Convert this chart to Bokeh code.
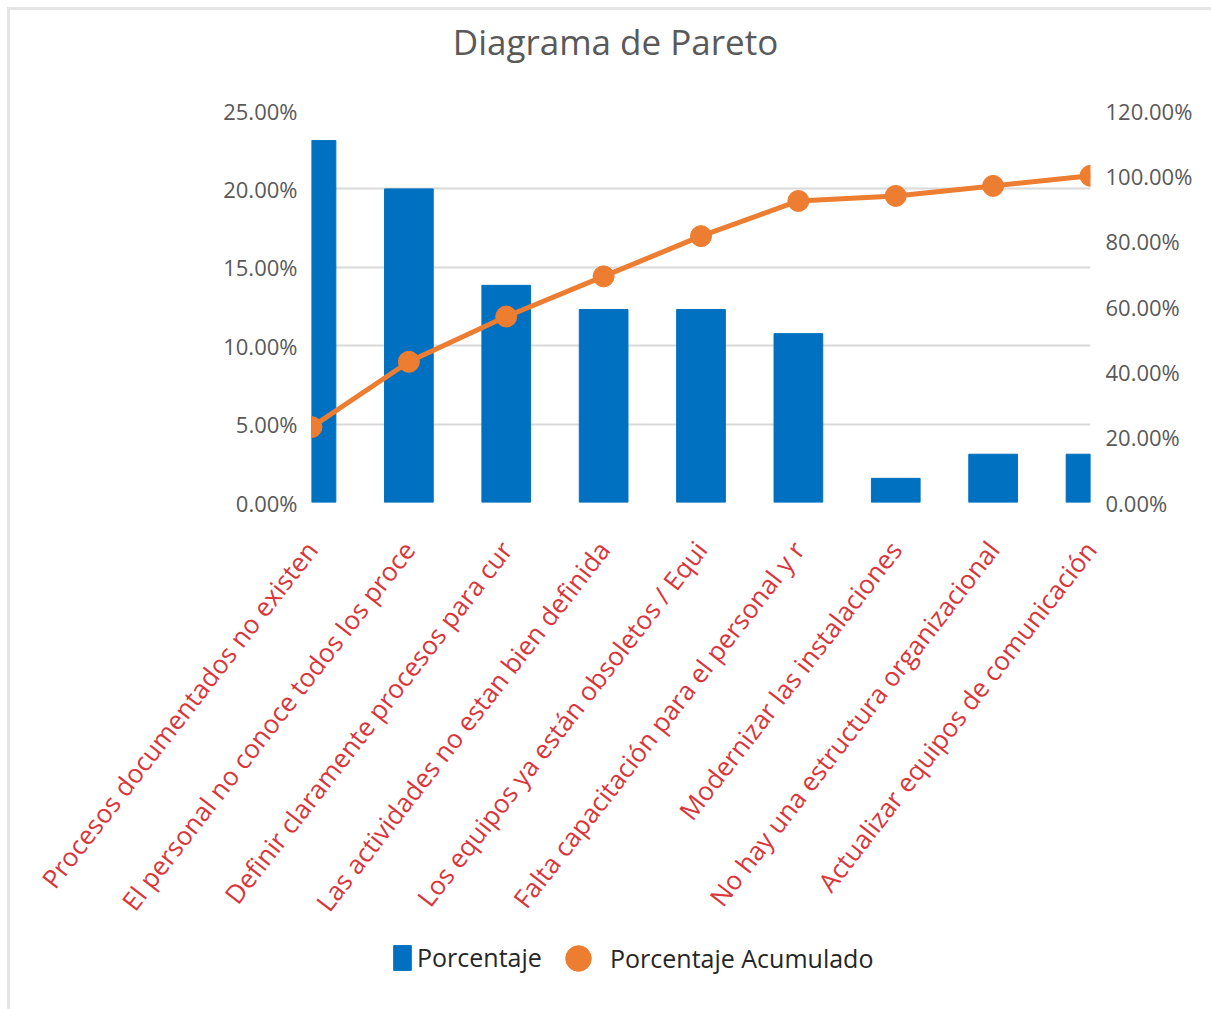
from bokeh.plotting import figure
from bokeh.layouts import column
from bokeh.models import (Range1d, LinearAxis, FixedTicker, NumeralTickFormatter,
                          Legend, LegendItem, Label)
from bokeh.embed import file_html
from bokeh.resources import INLINE

# ---- data ----
categories = [
    "Procesos documentados no existen",
    "El personal no conoce todos los proce",
    "Definir claramente procesos para cur",
    "Las actividades no estan bien definida",
    "Los equipos ya están obsoletos / Equi",
    "Falta capacitación para el personal y r",
    "Modernizar las instalaciones",
    "No hay una estructura organizacional",
    "Actualizar equipos de comunicación",
]
porcentaje = [0.2308, 0.2000, 0.1385, 0.1231, 0.1231, 0.1077, 0.0154, 0.0308, 0.0308]
acumulado = [0.2308, 0.4308, 0.5692, 0.6923, 0.8154, 0.9231, 0.9385, 0.9692, 1.0000]
left_ticks = [0.0, 0.05, 0.10, 0.15, 0.20, 0.25]
right_ticks = [0.0, 0.2, 0.4, 0.6, 0.8, 1.0, 1.2]
series_names = ["Porcentaje", "Porcentaje Acumulado"]
title_text = "Diagrama de Pareto"

FONT = "Open Sans"
GRAY = "#595959"
BLUE = "#0070c0"
ORANGE = "#ed7d31"
RED = "#d9363b"
W = 1201

xs = list(range(len(categories)))


def bare(fig):
    fig.outline_line_color = None
    fig.background_fill_color = "white"
    fig.border_fill_color = "white"
    fig.xgrid.grid_line_color = None
    fig.ygrid.grid_line_color = None
    return fig


# ---- title strip ----
pt = bare(figure(width=W, height=80, output_backend="svg", toolbar_location=None,
                 x_axis_location=None, y_axis_location=None,
                 min_border=0, x_range=Range1d(0, 1), y_range=Range1d(0, 1)))
pt.add_layout(Label(x=304, y=49, x_units="screen", y_units="screen",
                    text=title_text, text_font=FONT, text_font_size="35px",
                    text_color=GRAY, text_align="center", text_baseline="middle"))

# ---- main chart ----
p = figure(frame_width=779, frame_height=392, output_backend="svg", toolbar_location=None,
           x_range=Range1d(0, len(categories) - 1), y_range=Range1d(0, 0.25),
           min_border_left=301, min_border_right=121, min_border_top=20,
           min_border_bottom=432)
bare(p)
p.extra_y_ranges = {"acc": Range1d(0, 1.2)}

p.vbar(x=xs, top=porcentaje, width=0.5, color=BLUE)
p.line(x=xs, y=acumulado, y_range_name="acc", line_color=ORANGE, line_width=5)
p.scatter(x=xs, y=acumulado, y_range_name="acc", size=21, color=ORANGE)

ya = p.yaxis[0]
ya.ticker = FixedTicker(ticks=left_ticks)
ya.formatter = NumeralTickFormatter(format="0.00%")

ra = LinearAxis(y_range_name="acc", ticker=FixedTicker(ticks=right_ticks),
                formatter=NumeralTickFormatter(format="0.00%"))
p.add_layout(ra, "right")
for ax, so in ((ya, 8), (ra, 9)):
    ax.axis_line_color = None
    ax.major_tick_line_color = None
    ax.minor_tick_line_color = None
    ax.major_label_text_font = FONT
    ax.major_label_text_font_size = "22px"
    ax.major_label_text_color = GRAY
    ax.major_label_standoff = so

xa = p.xaxis[0]
xa.ticker = FixedTicker(ticks=xs)
xa.major_label_overrides = {i: c for i, c in zip(xs, categories)}
xa.major_label_orientation = 0.91
xa.axis_line_color = None
xa.major_tick_line_color = None
xa.minor_tick_line_color = None
xa.major_label_text_font = FONT
xa.major_label_text_font_size = "26px"
xa.major_label_text_color = RED
xa.major_label_standoff = 36

p.ygrid.grid_line_color = "#d9d9d9"
p.ygrid.ticker = FixedTicker(ticks=left_ticks)
p.ygrid.grid_line_width = 2

# ---- legend strip ----
pl = bare(figure(width=W, height=75, output_backend="svg", toolbar_location=None,
                 x_axis_location=None, y_axis_location=None,
                 min_border=0, x_range=Range1d(-100, -99), y_range=Range1d(-100, -99)))
lb = pl.vbar(x=xs, top=porcentaje, width=0.5, color=BLUE)
ls = pl.scatter(x=xs, y=acumulado, size=21, color=ORANGE)
lb.visible = False
ls.visible = False

common = dict(orientation="horizontal", label_text_font=FONT, label_text_font_size="25px",
              label_text_color="#262626", padding=0, margin=0,
              border_line_color=None, background_fill_alpha=0)
leg_a = Legend(items=[LegendItem(label=series_names[0], renderers=[lb])],
               location=(80, 35), glyph_width=22, glyph_height=31, label_standoff=4,
               **common)
leg_b = Legend(items=[LegendItem(label=series_names[1], renderers=[ls])],
               location=(235, 19), glyph_width=64, glyph_height=64, label_standoff=0,
               **common)
pl.add_layout(leg_a, "center")
pl.add_layout(leg_b, "center")

page = column(pt, p, pl, spacing=0)
page.margin = (7, 0, 0, 7)
page.styles = {"border-left": "3px solid #e4e4e4", "border-top": "3px solid #e4e4e4"}

open("out.html", "w").write(file_html(page, INLINE))
